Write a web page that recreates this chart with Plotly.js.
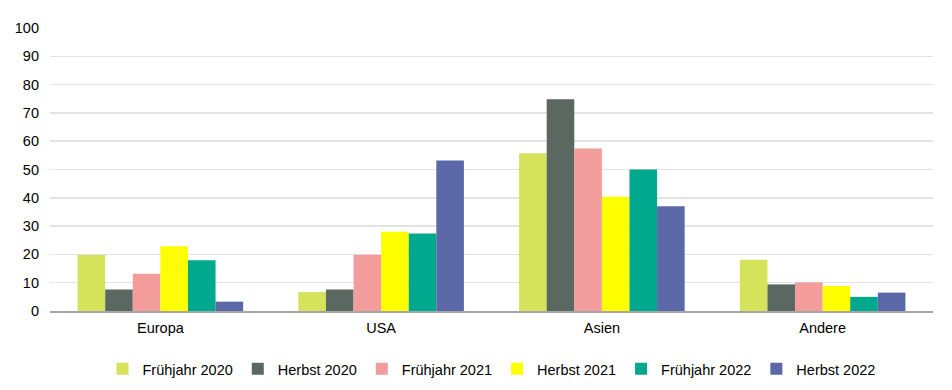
<!DOCTYPE html>
<html>
<head>
<meta charset="utf-8">
<script src="https://cdn.plot.ly/plotly-3.0.1.min.js"></script>
<style>html,body{margin:0;padding:0;background:#fff;}#chart{width:952px;height:390px;}</style>
</head>
<body>
<div id="chart"></div>
<script>
const categories = ["Europa", "USA", "Asien", "Andere"];
const seriesNames = ["Frühjahr 2020", "Herbst 2020", "Frühjahr 2021", "Herbst 2021", "Frühjahr 2022", "Herbst 2022"];
const fruehjahr2020 = [19.8, 6.7, 55.7, 18.1];
const herbst2020 = [7.6, 7.6, 74.8, 9.4];
const fruehjahr2021 = [13.2, 19.9, 57.4, 10.1];
const herbst2021 = [22.9, 28.0, 40.4, 8.8];
const fruehjahr2022 = [17.9, 27.4, 50.0, 5.0];
const herbst2022 = [3.3, 53.2, 37.0, 6.5];
const yTicks = [0, 10, 20, 30, 40, 50, 60, 70, 80, 90, 100];
const colors = ["#d4e35a", "#5b6862", "#f29c9b", "#ffff00", "#00a98d", "#5a68a8"];

const seriesValues = [fruehjahr2020, herbst2020, fruehjahr2021, herbst2021, fruehjahr2022, herbst2022];
const font = "Liberation Sans, Arial, sans-serif";

const traces = seriesNames.map((name, i) => ({
  type: "bar",
  name: name,
  x: categories,
  y: seriesValues[i],
  marker: {color: colors[i], line: {width: 0}},
  hoverinfo: "x+y+name"
}));

const layout = {
  width: 952,
  height: 390,
  margin: {l: 50, r: 19, t: 28, b: 79, autoexpand: false},
  paper_bgcolor: "#ffffff",
  plot_bgcolor: "#ffffff",
  barmode: "group",
  bargap: 0.25,
  bargroupgap: 0,
  font: {family: font, size: 14, color: "#000000"},
  xaxis: {
    type: "category",
    showgrid: false,
    showline: true,
    linecolor: "#a6a6a6",
    linewidth: 1.5,
    ticks: "",
    ticklabelstandoff: 3,
    tickfont: {family: font, size: 14.5, color: "#000000"}
  },
  yaxis: {
    range: [0, 100],
    tickvals: yTicks,
    ticktext: yTicks.map(String),
    showgrid: true,
    gridcolor: "#e3e3e3",
    gridwidth: 1.5,
    zeroline: false,
    showline: false,
    ticks: "",
    ticklabelstandoff: 10,
    tickfont: {family: font, size: 14.5, color: "#000000"}
  },
  showlegend: true,
  legend: {
    orientation: "h",
    x: 0.5,
    xanchor: "center",
    yref: "container",
    y: 0.054,
    yanchor: "middle",
    font: {family: font, size: 14.5, color: "#000000"},
    itemwidth: 30,
    traceorder: "normal"
  }
};

Plotly.newPlot("chart", traces, layout, {displayModeBar: false, staticPlot: true});
</script>
</body>
</html>
